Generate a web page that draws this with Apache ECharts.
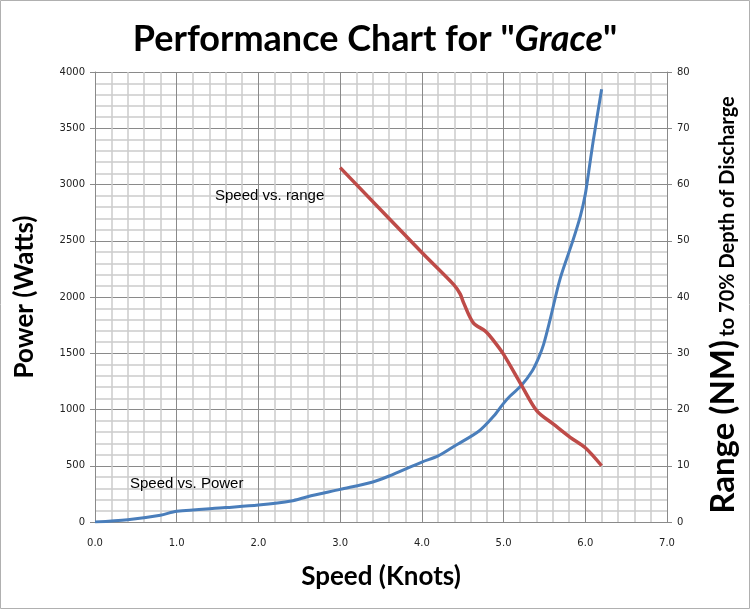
<!DOCTYPE html>
<html>
<head>
<meta charset="utf-8">
<script src="https://cdn.jsdelivr.net/npm/echarts@6/dist/echarts.min.js"></script>
<style>
html, body { margin: 0; padding: 0; background: #fff; }
#main { width: 750px; height: 609px; }
</style>
</head>
<body>
<div id="main"></div>
<script>
// 速度 vs 功率 (左轴)
var powerSpeed = [0, 0.4, 0.8, 1.0, 1.6, 2.0, 2.4, 2.6, 3.0, 3.4, 3.6, 4.0, 4.2, 4.4, 4.7, 4.88, 4.99, 5.08, 5.22, 5.35, 5.43, 5.49, 5.57, 5.69, 5.84, 5.94, 6.0, 6.04, 6.1, 6.2];
var powerWatts = [0, 20, 60, 95, 128, 151, 187, 225, 290, 356, 409, 533, 587, 675, 809, 942, 1046, 1120, 1215, 1342, 1461, 1579, 1801, 2157, 2483, 2719, 2912, 3105, 3401, 3846];
// 速度 vs 续航 (右轴)
var rangeSpeed = [3.0, 4.0, 4.39, 4.47, 4.51, 4.63, 4.78, 4.88, 5.0, 5.22, 5.41, 5.61, 5.82, 6.0, 6.2];
var rangeNM = [63.0, 47.9, 42.2, 40.5, 39.0, 35.4, 33.9, 32.2, 29.8, 24.3, 19.7, 17.4, 15.0, 13.2, 10.0];

var tickFont = { fontFamily: 'DejaVu Sans', fontSize: 10, color: '#222' };
var majorLine = { color: '#8a8a8a', width: 1 };
var minorLine = { color: '#cccccc', width: 1.5 };

function pairs(xs, ys) {
    return xs.map(function (x, i) { return [x, ys[i]]; });
}
function plain(v) { return String(v); }

var chart = echarts.init(document.getElementById('main'));
chart.setOption({
    animation: false,
    backgroundColor: '#fff',
    title: {
        text: 'Performance Chart for "{i|Grace}"',
        left: 'center',
        top: 16,
        textStyle: {
            fontFamily: 'Lato',
            fontWeight: 'bold',
            fontSize: 36,
            color: '#000',
            rich: {
                i: { fontFamily: 'Lato', fontWeight: 'bold', fontStyle: 'italic', fontSize: 36, color: '#000' }
            }
        }
    },
    grid: { left: 95, right: 83, top: 72, bottom: 87 },
    xAxis: {
        type: 'value',
        min: 0, max: 7, interval: 1,
        name: 'Speed (Knots)',
        nameLocation: 'middle',
        nameGap: 42,
        nameTextStyle: { fontFamily: 'Lato', fontWeight: 'bold', fontSize: 26, color: '#000' },
        axisLine: { show: true, lineStyle: { color: '#8a8a8a' } },
        axisTick: { show: false },
        axisLabel: Object.assign({ margin: 16, formatter: function (v) { return v.toFixed(1); } }, tickFont),
        splitLine: { show: true, lineStyle: majorLine },
        minorTick: { show: false, splitNumber: 5 },
        minorSplitLine: { show: true, lineStyle: minorLine }
    },
    yAxis: [
        {
            type: 'value',
            min: 0, max: 4000, interval: 500,
            name: 'Power (Watts)',
            nameLocation: 'middle',
            nameRotate: 90,
            nameGap: 57,
            nameTextStyle: { fontFamily: 'Lato', fontWeight: 'bold', fontSize: 26, color: '#000' },
            axisLine: { show: true, lineStyle: { color: '#8a8a8a' } },
            axisTick: { show: true, length: 5, lineStyle: { color: '#8a8a8a' } },
            axisLabel: Object.assign({ margin: 10, formatter: plain }, tickFont),
            splitLine: { show: true, lineStyle: majorLine },
            minorTick: { show: false, splitNumber: 5 },
            minorSplitLine: { show: true, lineStyle: minorLine }
        },
        {
            type: 'value',
            position: 'right',
            min: 0, max: 80, interval: 10,
            name: '{big|Range (NM)} {small|to 70% Depth of Discharge}',
            nameLocation: 'middle',
            nameRotate: 90,
            nameGap: 40,
            nameTextStyle: {
                color: '#000',
                padding: [0, 16, 0, 0],
                rich: {
                    big: { fontFamily: 'Lato', fontWeight: 'bold', fontSize: 33, color: '#000' },
                    small: { fontFamily: 'Lato', fontWeight: 'bold', fontSize: 20, color: '#000', padding: [8, 0, 0, 0] }
                }
            },
            axisLine: { show: true, lineStyle: { color: '#8a8a8a' } },
            axisTick: { show: true, length: 5, lineStyle: { color: '#8a8a8a' } },
            axisLabel: Object.assign({ margin: 10, formatter: plain }, tickFont),
            splitLine: { show: false }
        }
    ],
    graphic: [
        {
            type: 'rect',
            z: 100,
            shape: { x: 0.5, y: 0.5, width: 749, height: 608 },
            style: { fill: 'none', stroke: '#b0b0b0', lineWidth: 1 },
            silent: true
        },
        {
            type: 'text', left: 215, top: 188, z: 100,
            style: { text: 'Speed vs. range', fontFamily: 'Liberation Sans', fontSize: 15, fill: '#000', lineWidth: 0 }
        },
        {
            type: 'text', left: 130, top: 476, z: 100,
            style: { text: 'Speed vs. Power', fontFamily: 'Liberation Sans', fontSize: 15, fill: '#000', lineWidth: 0 }
        }
    ],
    series: [
        {
            name: 'Speed vs. Power',
            type: 'line',
            yAxisIndex: 0,
            data: pairs(powerSpeed, powerWatts),
            smooth: 0.3,
            showSymbol: false,
            lineStyle: { color: '#4a7ebb', width: 3 }
        },
        {
            name: 'Speed vs. range',
            type: 'line',
            yAxisIndex: 1,
            data: pairs(rangeSpeed, rangeNM),
            smooth: 0.3,
            showSymbol: false,
            lineStyle: { color: '#be4b48', width: 3.5 }
        }
    ]
});
</script>
</body>
</html>
